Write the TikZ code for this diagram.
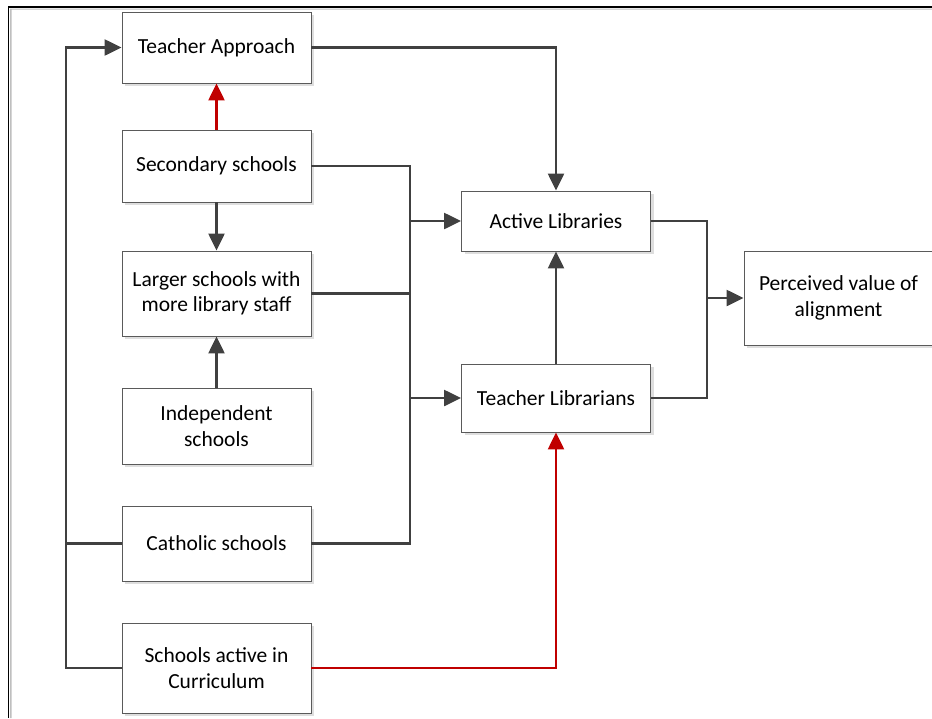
\documentclass[tikz,border=0pt]{standalone}
\usepackage{fontspec}
\setmainfont{Carlito}
\usetikzlibrary{arrows.meta,shadows}
\definecolor{linegray}{HTML}{404040}
\definecolor{boxgray}{HTML}{5A5A5A}
\definecolor{darkred}{HTML}{C00000}
\tikzset{
  box/.style={draw=boxgray,line width=0.9pt,fill=white,minimum width=189pt,align=center,
    font=\fontsize{21.5}{25.5}\selectfont,
    drop shadow={shadow xshift=3pt,shadow yshift=-3pt,fill=black!13,opacity=1}},
  conn/.style={draw=linegray,line width=2.4pt},
  redconn/.style={draw=darkred,line width=2.4pt},
  tip/.style={-{Triangle[length=17pt,width=16pt]}}
}
\begin{document}
\begin{tikzpicture}[x=1pt,y=-1pt]
      \useasboundingbox (0,0) rectangle (932,718);
      \clip (0,0) rectangle (932,718);
      \fill[black!25] (10,718) -- (10,8.5) -- (932,8.5) -- (932,9.5) -- (11.5,9.5) -- (11.5,718) -- cycle;
      \draw[line width=1.4pt] (8.5,718) -- (8.5,7) -- (932,7);
      \node[box,minimum height=71pt] (ta)   at (216.5,47.5)  {Teacher Approach};
      \node[box,minimum height=72pt] (sec)  at (216.5,166)   {Secondary schools};
      \node[box,minimum height=85pt] (lrg)  at (216.5,293.5) {Larger schools with\\more library staff};
      \node[box,minimum height=76pt] (ind)  at (216.5,426)   {Independent\\schools};
      \node[box,minimum height=75pt] (cath) at (216.5,543.5) {Catholic schools};
      \node[box,minimum height=90pt] (cur)  at (216.5,668)   {Schools active in\\Curriculum};
      \node[box,minimum height=60pt] (act)  at (556,221)     {Active Libraries};
      \node[box,minimum height=68pt] (tl)   at (556,398)     {Teacher Librarians};
      \node[box,minimum height=94pt] (pv)   at (838.5,298)   {Perceived value of\\alignment};
      \coordinate (lb) at (66,668);
      \coordinate (mb) at (410,543.5);
      \coordinate (rb) at (707,398);
      \draw[conn,tip] (cur.west) -- (cur.west -| lb) |- (ta.west);
      \draw[conn] (cath.west) -- (cath.west -| lb);
      \draw[conn] (sec.east) -| (mb) -- (cath.east);
      \draw[conn] (lrg.east) -- (lrg.east -| mb);
      \draw[conn,tip] (act.west -| mb) -- (act.west);
      \draw[conn,tip] (tl.west -| mb) -- (tl.west);
      \draw[conn,tip] (ta.east) -| (act.north);
      \draw[conn,tip] (tl.north) -- (act.south);
      \draw[conn] (act.east) -| (rb) -- (tl.east);
      \draw[conn,tip] (pv.west -| rb) -- (pv.west);
      \draw[conn,tip] (sec.south) -- (lrg.north);
      \draw[conn,tip] (ind.north) -- (lrg.south);
      \draw[redconn,tip] (sec.north) -- (ta.south);
      \draw[redconn,tip] (cur.east) -| (tl.south);
\end{tikzpicture}
\end{document}
